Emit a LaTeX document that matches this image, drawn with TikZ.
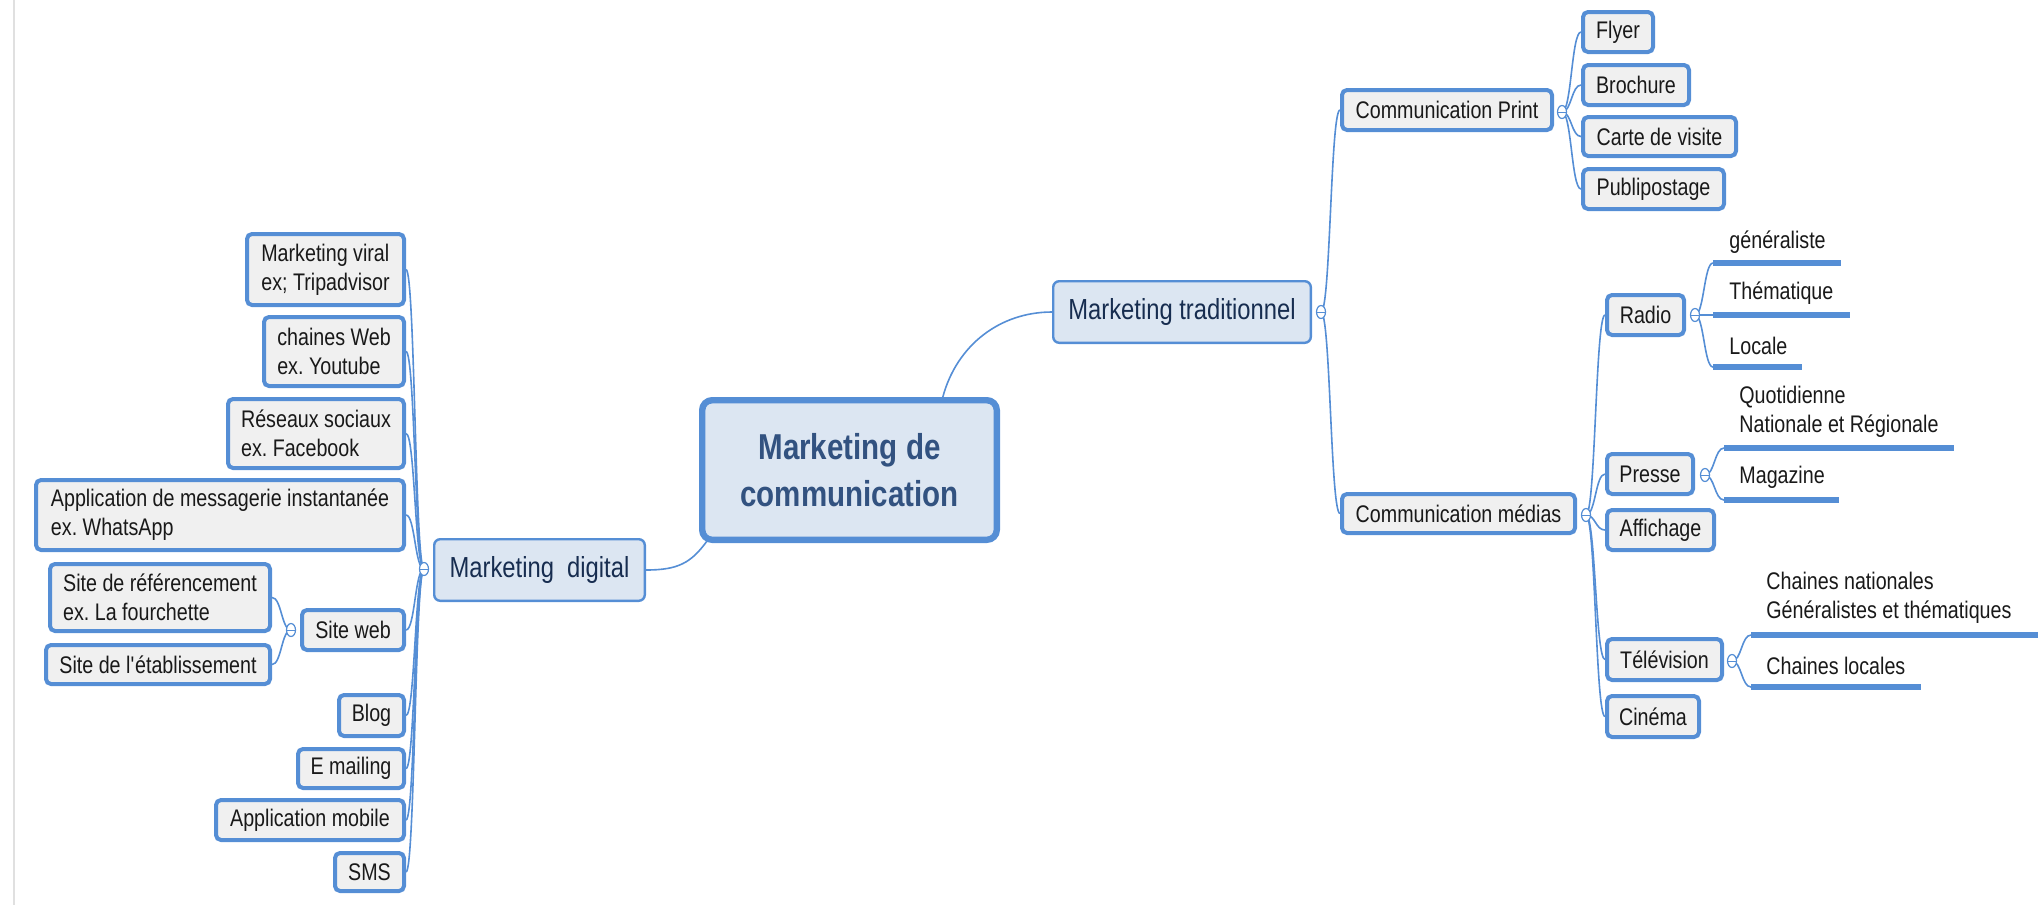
\documentclass[tikz,border=0pt]{standalone}
\usepackage{fontspec}
\setmainfont{Liberation Sans}[FakeStretch=0.82]
\usetikzlibrary{shapes.geometric,calc}
\definecolor{bblue}{RGB}{85,142,213}
\definecolor{boxfill}{RGB}{240,240,240}
\definecolor{lfill}{RGB}{220,230,242}
\definecolor{navy}{RGB}{23,45,80}
\definecolor{ctext}{RGB}{50,82,128}
\definecolor{ink}{RGB}{25,25,25}
\frenchspacing
\newcommand\mconn[2]{\draw[conn] let \p1=(#1), \p2=(#2) in (\p1) .. controls ({(\x1+\x2)/2},\y1) and ({(\x1+\x2)/2},\y2) .. (\p2);}
\begin{document}
\begin{tikzpicture}[x=0.5pt,y=-0.5pt,
  leaf/.style={draw=bblue, line width=2pt, fill=boxfill, rounded corners=2.5pt, inner sep=0pt,
    font=\fontsize{12}{14.5}\selectfont, text=ink, align=left},
  lvl/.style={draw=bblue, line width=1.2pt, fill=lfill, rounded corners=3pt, inner sep=0pt,
    font=\fontsize{14.5}{17}\selectfont, text=navy},
  root/.style={draw=bblue, line width=3.2pt, fill=lfill, rounded corners=5pt, inner sep=0pt,
    font=\fontsize{18}{23.5}\selectfont\bfseries, text=ctext, align=center},
  ultext/.style={inner sep=0pt, font=\fontsize{12}{14.5}\selectfont, text=ink, align=left, anchor=west},
  bar/.style={draw=bblue, line width=2.6pt},
  conn/.style={draw=bblue, line width=0.8pt},
  mcirc/.style={ellipse, draw=bblue, fill=white, line width=0.6pt, minimum width=4.5pt, minimum height=6.5pt, inner sep=0pt,
    path picture={\draw[bblue, line width=0.5pt] (path picture bounding box.west) -- (path picture bounding box.east);}}
]
\useasboundingbox (0,0) rectangle (2038,905);
\draw[black!12, line width=0.8pt] (14,0) -- (14,905);

% root and level 1
\node[root, minimum width=147.3pt, minimum height=69.8pt] (center) at (849.5,470) {Marketing de\\communication};
\node[lvl, minimum width=128.8pt, minimum height=30.8pt] (trad) at (1182,312) {Marketing traditionnel};
\node[lvl, minimum width=105.3pt, minimum height=30.8pt] (digital) at (539.5,570) {Marketing\ \ digital};

% left leaves
\node[leaf, minimum width=78.5pt, minimum height=35.5pt] (viral) at (325.5,269.5) {Marketing viral\\ex; Tripadvisor};
\node[leaf, minimum width=70pt, minimum height=34.5pt] (web) at (334,351.5) {chaines Web\\ex. Youtube};
\node[leaf, minimum width=88pt, minimum height=34.5pt] (reseaux) at (316,433.5) {Réseaux sociaux\\ex. Facebook};
\node[leaf, minimum width=184pt, minimum height=35pt] (appmsg) at (220,515) {Application de messagerie instantanée\\ex. WhatsApp};
\node[leaf, minimum width=110pt, minimum height=33.5pt] (siteref) at (160,597.5) {Site de référencement\\ex. La fourchette};
\node[leaf, minimum width=112pt, minimum height=19.5pt] (siteetab) at (158,664.5) {Site de l\textquotesingle établissement};
\node[leaf, minimum width=51pt, minimum height=20pt] (siteweb) at (353,630) {Site web};
\node[leaf, minimum width=32.5pt, minimum height=20.5pt] (blog) at (371.5,715.5) {Blog};
\node[leaf, minimum width=53pt, minimum height=19.5pt] (emailing) at (351,768.5) {E mailing};
\node[leaf, minimum width=94pt, minimum height=20pt] (appmob) at (310,820) {Application mobile};
\node[leaf, minimum width=34.5pt, minimum height=19pt] (sms) at (369.5,872) {SMS};

% right leaves
\node[leaf, minimum width=105pt, minimum height=20pt] (print) at (1447,110) {Communication Print};
\node[leaf, minimum width=35pt, minimum height=20pt] (flyer) at (1618,32) {Flyer};
\node[leaf, minimum width=53pt, minimum height=20pt] (brochure) at (1636,85) {Brochure};
\node[leaf, minimum width=76.5pt, minimum height=19.5pt] (carte) at (1659.5,136.5) {Carte de visite};
\node[leaf, minimum width=70.5pt, minimum height=20pt] (publi) at (1653.5,189) {Publipostage};
\node[leaf, minimum width=116.5pt, minimum height=19.5pt] (medias) at (1458.5,513.5) {Communication médias};
\node[leaf, minimum width=38.5pt, minimum height=20pt] (radio) at (1645.5,315) {Radio};
\node[leaf, minimum width=43pt, minimum height=20pt] (presse) at (1650,474) {Presse};
\node[leaf, minimum width=53.5pt, minimum height=20pt] (affichage) at (1660.5,530) {Affichage};
\node[leaf, minimum width=57.5pt, minimum height=20.5pt] (tele) at (1664.5,659.5) {Télévision};
\node[leaf, minimum width=46pt, minimum height=20.5pt] (cinema) at (1653,716.5) {Cinéma};

% underline topics
\node[ultext] (gen) at (1729,242) {généraliste};
\node[ultext] (them) at (1729,293) {Thématique};
\node[ultext] (loc) at (1729,346) {Locale};
\node[ultext] (quot) at (1739,411.5) {Quotidienne\\Nationale et Régionale};
\node[ultext] (mag) at (1739,477) {Magazine};
\node[ultext] (chn) at (1766,597.5) {Chaines nationales\\Généralistes et thématiques};
\node[ultext] (chl) at (1766,666) {Chaines locales};
\coordinate (genL) at (1713,263); \coordinate (genR) at (1841,263);
\coordinate (themL) at (1713,315); \coordinate (themR) at (1850,315);
\coordinate (locL) at (1713,367); \coordinate (locR) at (1802,367);
\coordinate (quotL) at (1724,448); \coordinate (quotR) at (1954,448);
\coordinate (magL) at (1724,500); \coordinate (magR) at (1839,500);
\coordinate (chnL) at (1751,635); \coordinate (chnR) at (2038,635);
\coordinate (chlL) at (1751,687); \coordinate (chlR) at (1921,687);
\foreach \b in {gen,them,loc,quot,mag,chn,chl} {\draw[bar] (\b L) -- (\b R);}

% collapse markers positions
\coordinate (dgc) at (424,569);
\coordinate (trc) at (1321,312);
\coordinate (prc) at (1562,112);
\coordinate (mdc) at (1586,515);
\coordinate (rdc) at (1695,315);
\coordinate (psc) at (1705,475);
\coordinate (tvc) at (1732,661);
\coordinate (swc) at (291,630);

% connectors
\draw[conn] ($(center.north west)!0.81!(center.north east)$) .. controls +(14,-52) and ($(trad.west)+(-52,0)$) .. (trad.west);
\draw[conn] ($(center.south west)+(8,-2)$) .. controls +(-16,22) and ($(digital.east)+(32,0)$) .. (digital.east);
\foreach \c in {viral,web,reseaux,appmsg,siteweb,blog,emailing,appmob,sms} {\mconn{dgc}{\c.east}}
\foreach \c in {siteref,siteetab} {\mconn{swc}{\c.east}}
\foreach \c in {print,medias} {\mconn{trc}{\c.west}}
\foreach \c in {flyer,brochure,carte,publi} {\mconn{prc}{\c.west}}
\foreach \c in {radio,presse,affichage,tele,cinema} {\mconn{mdc}{\c.west}}
\foreach \c in {genL,themL,locL} {\mconn{rdc}{\c}}
\foreach \c in {quotL,magL} {\mconn{psc}{\c}}
\foreach \c in {chnL,chlL} {\mconn{tvc}{\c}}

% markers
\foreach \m in {dgc,trc,prc,mdc,rdc,psc,tvc,swc} {\node[mcirc] at (\m) {};}
\end{tikzpicture}
\end{document}
